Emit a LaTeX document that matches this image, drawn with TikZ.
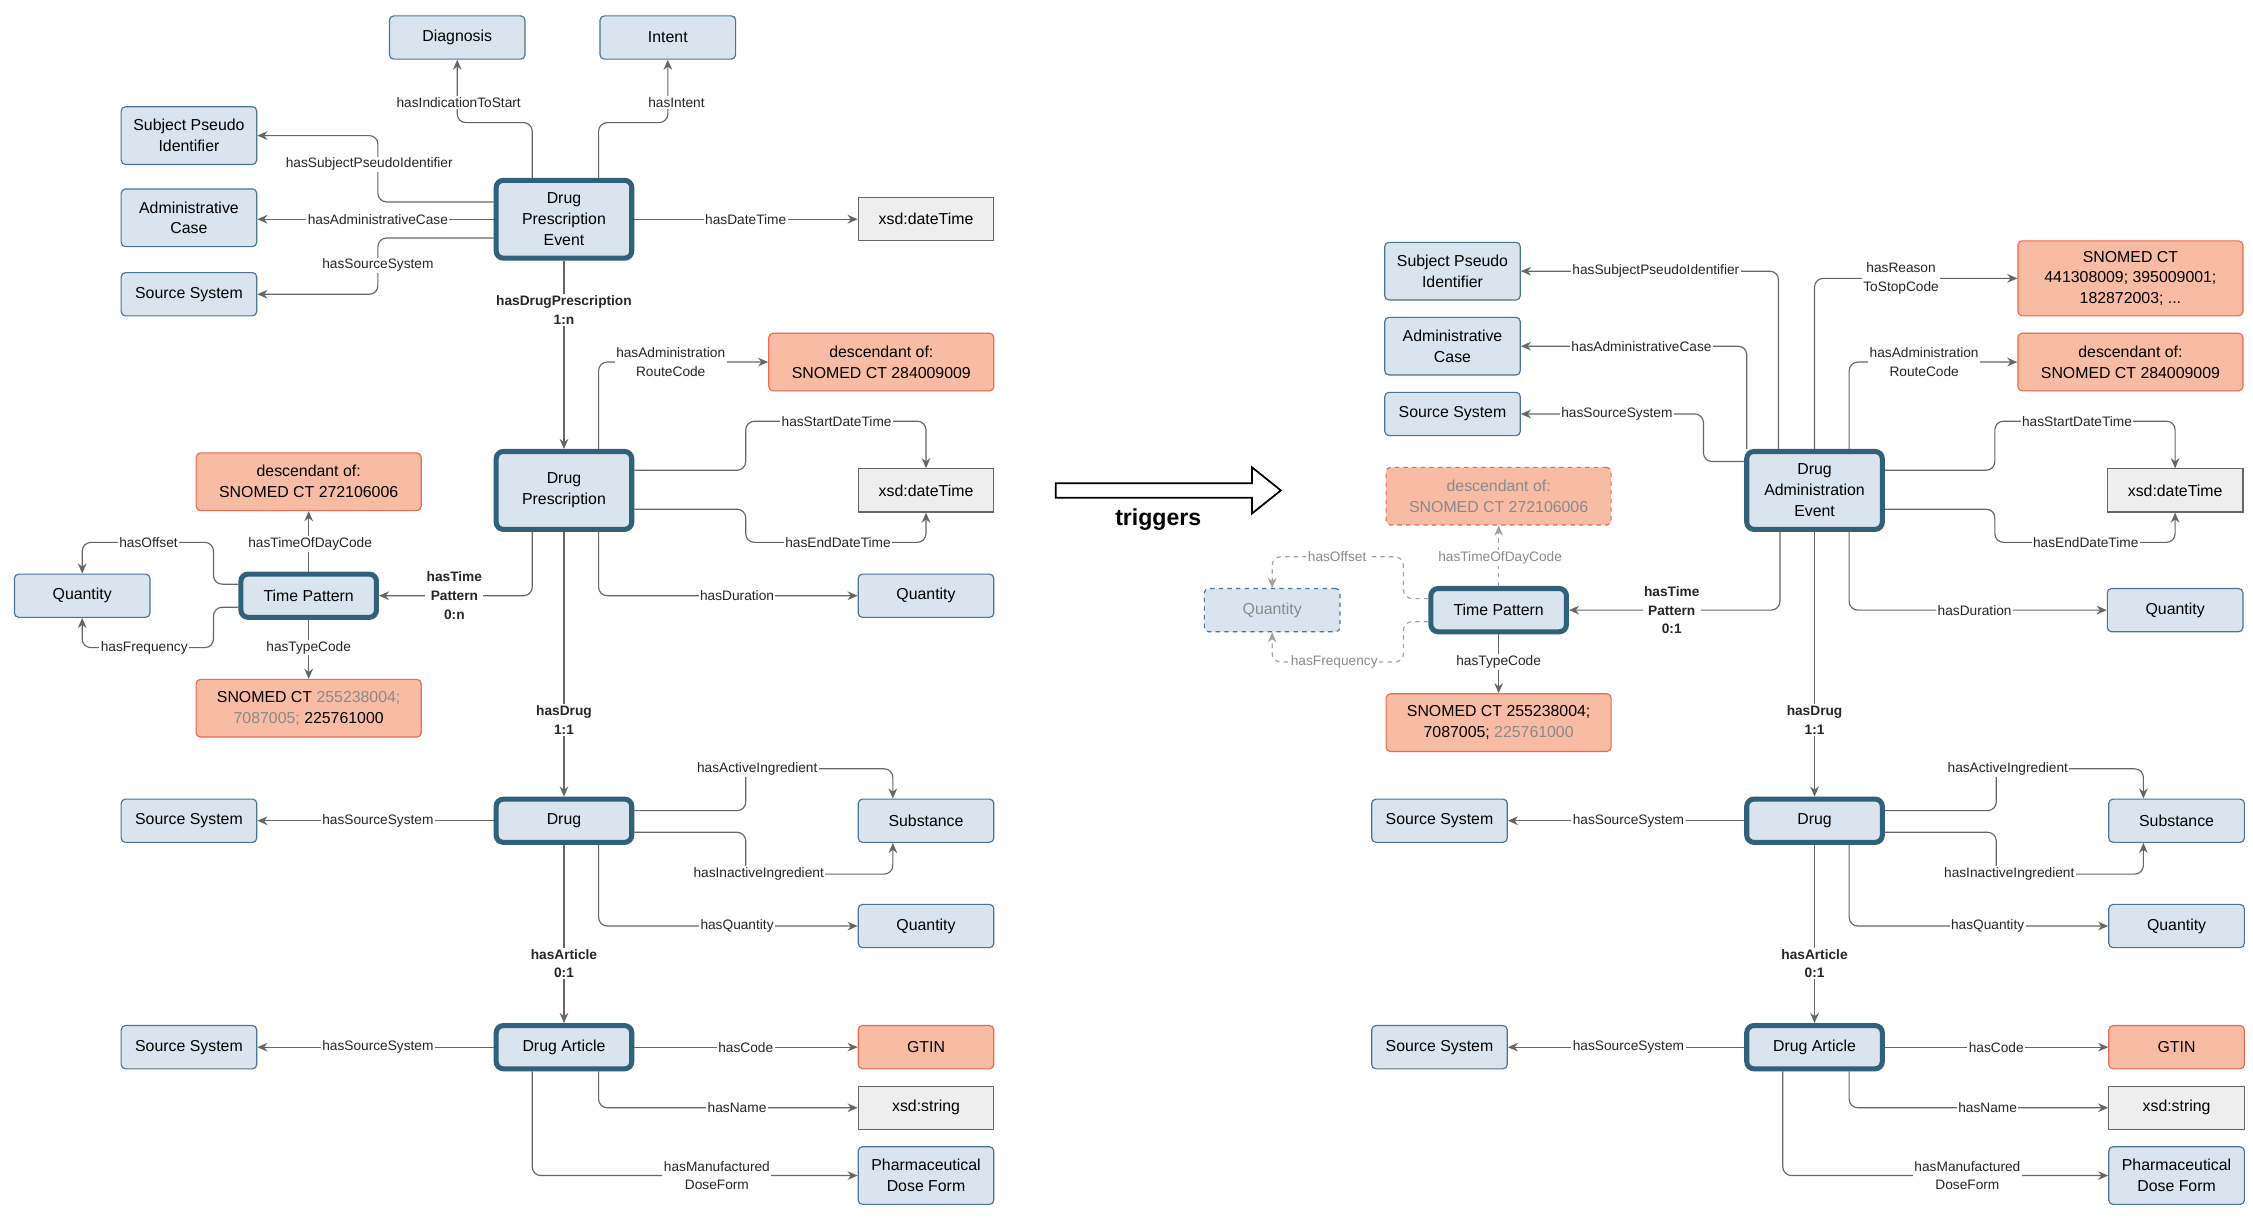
\documentclass[tikz,border=0pt]{standalone}
\usepackage{fontspec}
\setmainfont{Liberation Sans}
\usetikzlibrary{arrows.meta}
\definecolor{entf}{HTML}{DAE4EE}
\definecolor{entb}{HTML}{4A7491}
\definecolor{mainb}{HTML}{30607A}
\definecolor{litf}{HTML}{EEEEEE}
\definecolor{codef}{HTML}{F8BBA3}
\definecolor{codeb}{HTML}{EA6B4F}
\definecolor{lnc}{HTML}{666666}
\definecolor{fad}{HTML}{8A8A8A}
\newcommand\lowerpart[2]{%
\begin{scope}[xshift=#2pt]
\node[main] (#1drug) at (391,569) {Drug};
\node[ent] (#1ss) at (131,569) {Source System};
\node[ent] (#1sub) at (642,569) {Substance};
\node[ent] (#1qty) at (642,642) {Quantity};
\node[main] (#1da) at (391,726) {Drug Article};
\node[ent] (#1ssb) at (131,726) {Source System};
\node[code,minimum width=94pt] (#1gtin) at (642,726) {GTIN};
\node[lit] (#1str) at (642,768) {xsd:string};
\node[ent,minimum height=40pt] (#1pdf) at (642,815) {Pharmaceutical\\Dose Form};
\draw[edge] (#1drug) -- (#1ss);
\draw[edge] (#1drug.east |- 0,562) -- (517,562) -- (517,533) -- (619,533) -- (619,0 |- #1sub.north);
\draw[edge] (#1drug.east |- 0,577) -- (517,577) -- (517,606) -- (619,606) -- (619,0 |- #1sub.south);
\draw[edge] (415,0 |- #1drug.south) -- (415,642) -- (#1qty.west);
\draw[edge] (#1drug) -- (#1da);
\draw[edge] (#1da) -- (#1ssb);
\draw[edge] (#1da) -- (#1gtin);
\draw[edge] (415,0 |- #1da.south) -- (415,768) -- (#1str.west);
\draw[edge] (369,0 |- #1da.south) -- (369,815) -- (#1pdf.west);
\node[lab] at (262,569) {hasSourceSystem};
\node[lab] at (525,533) {hasActiveIngredient};
\node[lab] at (526,606) {hasInactiveIngredient};
\node[lab] at (511,642) {hasQuantity};
\node[blab] at (391,668) {hasArticle\\0:1};
\node[lab] at (262,726) {hasSourceSystem};
\node[lab] at (517,726) {hasCode};
\node[lab] at (511,768) {hasName};
\node[lab] at (497,815) {hasManufactured\\DoseForm};
\end{scope}}
\begin{document}
\begin{tikzpicture}[x=1pt,y=-1pt,
 ent/.style={draw=entb,fill=entf,line width=0.8pt,rounded corners=3pt,minimum width=94pt,minimum height=30pt,align=center,inner sep=1pt,font=\fontsize{11}{14.5}\selectfont},
 main/.style={ent,draw=mainb,line width=3.5pt,rounded corners=5pt},
 lit/.style={ent,draw=lnc,fill=litf,rounded corners=0pt},
 code/.style={ent,draw=codeb,fill=codef,minimum width=156pt},
 edge/.style={draw=lnc,line width=0.8pt,rounded corners=6pt,-{Stealth[length=7pt,width=6pt]}},
 fedge/.style={edge,dashed,draw=fad!80},
 lab/.style={fill=white,inner sep=1pt,align=center,text=black!85,font=\fontsize{9.5}{13}\selectfont},
 flab/.style={lab,text=fad},
 blab/.style={lab,font=\fontsize{9.5}{13}\selectfont\bfseries}]
\useasboundingbox[fill=white] (0,0) rectangle (1562,844.4);
% ---------- left top ----------
\node[ent] (diag) at (317,26) {Diagnosis};
\node[ent] (intent) at (463,26) {Intent};
\node[ent,minimum height=40pt] (subj) at (131,94) {Subject Pseudo\\Identifier};
\node[ent,minimum height=40pt] (adm) at (131,151) {Administrative\\Case};
\node[ent] (ss0) at (131,204) {Source System};
\node[main,minimum height=54pt] (dpe) at (391,152) {Drug\\Prescription\\Event};
\node[lit] (dt0) at (642,152) {xsd:dateTime};
\node[code,minimum height=40pt] (route) at (611,251) {descendant of:\\SNOMED CT 284009009};
\node[main,minimum height=54pt] (dp) at (391,340) {Drug\\Prescription};
\node[lit] (dt1) at (642,340) {xsd:dateTime};
\node[ent] (qdur) at (642,413) {Quantity};
\node[code,minimum height=40pt] (tod) at (214,334) {descendant of:\\SNOMED CT 272106006};
\node[main] (tp) at (214,413) {Time Pattern};
\node[ent] (qtp) at (57,413) {Quantity};
\node[code,minimum height=40pt] (type) at (214,491) {SNOMED CT \textcolor{fad}{255238004;}\\\textcolor{fad}{7087005;} 225761000};
\draw[edge] (369,0 |- dpe.north) -- (369,85) -- (317,85) -- (diag.south);
\draw[edge] (415,0 |- dpe.north) -- (415,85) -- (463,85) -- (intent.south);
\draw[edge] (dpe.west |- 0,140) -- (262,140) -- (262,94) -- (subj.east);
\draw[edge] (dpe.west |- 0,152) -- (adm.east |- 0,152);
\draw[edge] (dpe.west |- 0,165) -- (262,165) -- (262,204) -- (ss0.east);
\draw[edge] (dpe) -- (dt0);
\draw[edge] (dpe) -- (dp);
\draw[edge] (415,0 |- dp.north) -- (415,251) -- (route.west);
\draw[edge] (dp.east |- 0,326) -- (517,326) -- (517,292) -- (642,292) -- (dt1.north);
\draw[edge] (dp.east |- 0,353) -- (517,353) -- (517,376) -- (642,376) -- (dt1.south);
\draw[edge] (415,0 |- dp.south) -- (415,413) -- (qdur.west);
\draw[edge] (369,0 |- dp.south) -- (369,413) -- (tp.east);
\draw[edge] (tp) -- (tod);
\draw[edge] (tp) -- (type);
\draw[edge] (tp.west |- 0,405) -- (148,405) -- (148,376) -- (57,376) -- (qtp.north);
\draw[edge] (tp.west |- 0,421) -- (148,421) -- (148,449) -- (57,449) -- (qtp.south);
\node[lab] at (318,71) {hasIndicationToStart};
\node[lab] at (469,71) {hasIntent};
\node[lab] at (256,114) {hasSubjectPseudoIdentifier};
\node[lab] at (262,152) {hasAdministrativeCase};
\node[lab] at (262,184) {hasSourceSystem};
\node[lab] at (517,152) {hasDateTime};
\node[blab] at (391,215) {hasDrugPrescription\\1:n};
\node[lab] at (465,251) {hasAdministration\\RouteCode};
\node[lab] at (580,292) {hasStartDateTime};
\node[lab] at (581,376) {hasEndDateTime};
\node[lab] at (511,413) {hasDuration};
\node[blab] at (315,413) {hasTime\\Pattern\\0:n};
\node[lab] at (215,377) {hasTimeOfDayCode};
\node[lab] at (214,449) {hasTypeCode};
\node[lab] at (103,376) {hasOffset};
\node[lab] at (100,449) {hasFrequency};
\lowerpart{L}{0}
\draw[edge] (dp) -- (Ldrug);
\node[blab] at (391,499) {hasDrug\\1:1};
% ---------- arrow ----------
\draw[line width=1.2pt,fill=white] (732,335) -- (868,335) -- (868,324) -- (888,340) -- (868,356) -- (868,345) -- (732,345) -- cycle;
\node[font=\fontsize{16}{19}\selectfont\bfseries] (trig) at (803,360) {triggers};
% ---------- right top ----------
\node[ent,minimum height=40pt] (rsubj) at (1007,188) {Subject Pseudo\\Identifier};
\node[ent,minimum height=40pt] (radm) at (1007,240) {Administrative\\Case};
\node[ent] (rss) at (1007,287) {Source System};
\node[code,minimum height=52pt] (stop) at (1477,193) {SNOMED CT\\441308009; 395009001;\\182872003; ...};
\node[code,minimum height=40pt] (rroute) at (1477,251) {descendant of:\\SNOMED CT 284009009};
\node[main,minimum height=54pt] (dae) at (1258,340) {Drug\\Administration\\Event};
\node[lit] (rdt) at (1508,340) {xsd:dateTime};
\node[ent] (rqdur) at (1508,423) {Quantity};
\node[code,minimum height=40pt,dashed,text=fad] (rtod) at (1039,344) {descendant of:\\SNOMED CT 272106006};
\node[main] (rtp) at (1039,423) {Time Pattern};
\node[ent,dashed,text=fad] (rqtp) at (882,423) {Quantity};
\node[code,minimum height=40pt] (rtype) at (1039,501) {SNOMED CT 255238004;\\7087005; \textcolor{fad}{225761000}};
\draw[edge] (1233,0 |- dae.north) -- (1233,188) -- (rsubj.east);
\draw[edge] (1211,0 |- dae.north) -- (1211,240) -- (radm.east);
\draw[edge] (dae.west |- 0,320) -- (1181,320) -- (1181,287) -- (rss.east);
\draw[edge] (1258,0 |- dae.north) -- (1258,193) -- (stop.west);
\draw[edge] (1282,0 |- dae.north) -- (1282,251) -- (rroute.west);
\draw[edge] (dae.east |- 0,326) -- (1383,326) -- (1383,292) -- (1508,292) -- (rdt.north);
\draw[edge] (dae.east |- 0,353) -- (1383,353) -- (1383,376) -- (1508,376) -- (rdt.south);
\draw[edge] (1282,0 |- dae.south) -- (1282,423) -- (rqdur.west);
\draw[edge] (1234,0 |- dae.south) -- (1234,423) -- (rtp.east);
\draw[fedge] (rtp) -- (rtod);
\draw[edge] (rtp) -- (rtype);
\draw[fedge] (rtp.west |- 0,415) -- (973,415) -- (973,386) -- (882,386) -- (rqtp.north);
\draw[fedge] (rtp.west |- 0,431) -- (973,431) -- (973,459) -- (882,459) -- (rqtp.south);
\node[lab] at (1148,188) {hasSubjectPseudoIdentifier};
\node[lab] at (1138,240) {hasAdministrativeCase};
\node[lab] at (1121,287) {hasSourceSystem};
\node[lab] at (1318,193) {hasReason\\ToStopCode};
\node[lab] at (1334,251) {hasAdministration\\RouteCode};
\node[lab] at (1440,292) {hasStartDateTime};
\node[lab] at (1446,376) {hasEndDateTime};
\node[lab] at (1369,423) {hasDuration};
\node[blab] at (1159,423) {hasTime\\Pattern\\0:1};
\node[flab] at (1040,387) {hasTimeOfDayCode};
\node[lab] at (1039,459) {hasTypeCode};
\node[flab] at (927,386) {hasOffset};
\node[flab] at (925,459) {hasFrequency};
\lowerpart{R}{867}
\draw[edge] (dae) -- (Rdrug);
\node[blab] at (1258,499) {hasDrug\\1:1};
\end{tikzpicture}
\end{document}
